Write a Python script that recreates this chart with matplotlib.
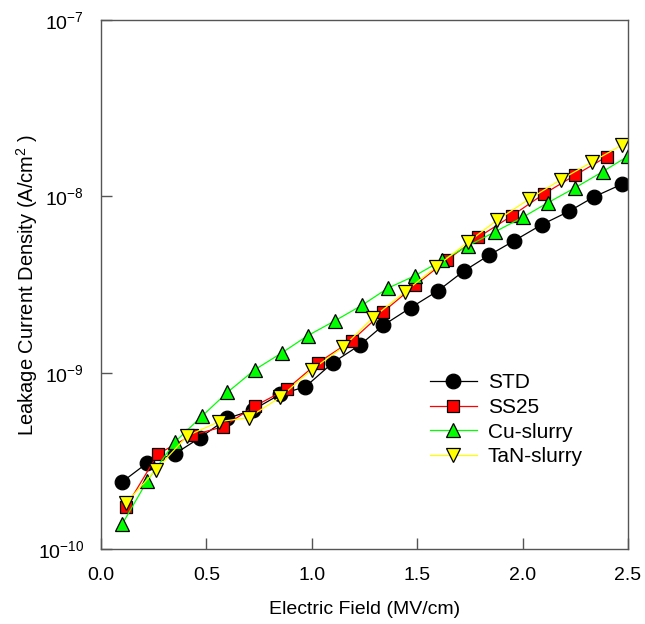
import math
import matplotlib
matplotlib.use("Agg")
import matplotlib.pyplot as plt
from matplotlib.ticker import FixedLocator, FuncFormatter, NullLocator

plt.rcParams['font.family'] = ['Liberation Sans', 'DejaVu Sans']
plt.rcParams['mathtext.fontset'] = 'custom'
plt.rcParams['mathtext.rm'] = 'Liberation Sans'
plt.rcParams['mathtext.it'] = 'Liberation Sans'
plt.rcParams['mathtext.bf'] = 'Liberation Sans'

std_x = [0.10, 0.22, 0.35, 0.47, 0.60, 0.72, 0.85, 0.97, 1.10, 1.23, 1.34, 1.47,
         1.60, 1.72, 1.84, 1.96, 2.09, 2.22, 2.34, 2.47]
std_y = [2.40e-10, 3.08e-10, 3.46e-10, 4.28e-10, 5.51e-10, 6.14e-10, 7.54e-10, 8.32e-10,
         1.14e-9, 1.44e-9, 1.86e-9, 2.34e-9, 2.92e-9, 3.76e-9, 4.63e-9, 5.60e-9,
         6.90e-9, 8.22e-9, 9.95e-9, 1.17e-8]

ss25_x = [0.12, 0.27, 0.43, 0.58, 0.73, 0.88, 1.03, 1.19, 1.34, 1.49, 1.64, 1.79,
          1.95, 2.10, 2.25, 2.40]
ss25_y = [1.74e-10, 3.46e-10, 4.41e-10, 4.94e-10, 6.47e-10, 8.05e-10, 1.14e-9, 1.52e-9,
          2.22e-9, 3.13e-9, 4.35e-9, 5.86e-9, 7.77e-9, 1.03e-8, 1.32e-8, 1.68e-8]

cu_x = [0.10, 0.22, 0.35, 0.48, 0.60, 0.73, 0.86, 0.98, 1.11, 1.24, 1.36, 1.49,
        1.62, 1.74, 1.87, 2.00, 2.12, 2.25, 2.38, 2.50]
cu_y = [1.38e-10, 2.44e-10, 4.04e-10, 5.68e-10, 7.74e-10, 1.04e-9, 1.30e-9, 1.62e-9,
        1.97e-9, 2.42e-9, 3.01e-9, 3.55e-9, 4.35e-9, 5.23e-9, 6.30e-9, 7.60e-9,
        9.20e-9, 1.12e-8, 1.38e-8, 1.69e-8]

tan_x = [0.12, 0.26, 0.41, 0.56, 0.70, 0.85, 1.00, 1.15, 1.29, 1.44, 1.59, 1.74,
         1.88, 2.03, 2.18, 2.33, 2.47]
tan_y = [1.83e-10, 2.81e-10, 4.39e-10, 5.27e-10, 5.56e-10, 7.25e-10, 1.04e-9, 1.40e-9,
         2.05e-9, 2.86e-9, 3.99e-9, 5.49e-9, 7.34e-9, 9.62e-9, 1.24e-8, 1.57e-8, 1.95e-8]

labels = ['STD', 'SS25', 'Cu-slurry', 'TaN-slurry']
x_ticks = [0.0, 0.5, 1.0, 1.5, 2.0, 2.5]
y_ticks = [1e-10, 1e-9, 1e-8, 1e-7]

fig = plt.figure(figsize=(6.45, 6.24), dpi=100)
ax = fig.add_axes([101/645, 75/624, 527/645, 529/624])

series = [
    (std_x, std_y, 'black', 'o', 'black', 10.5),
    (ss25_x, ss25_y, 'red', 's', 'red', 9),
    (cu_x, cu_y, '#00ff00', '^', '#00ff00', 10.5),
    (tan_x, tan_y, '#ffff00', 'v', '#ffff00', 10.5),
]
for (xs, ys, lc, m, fc, ms), lab in zip(series, labels):
    ax.plot(xs, ys, color=lc, lw=0.9, marker=m, markersize=ms,
            markerfacecolor=fc, markeredgecolor='black', markeredgewidth=0.9,
            label=lab)

ax.set_yscale('log')
ax.set_xlim(0, 2.5)
ax.set_ylim(1e-10, 1e-7)
ax.xaxis.set_major_locator(FixedLocator(x_ticks))
ax.xaxis.set_major_formatter(FuncFormatter(lambda v, p: f"{v:.1f}"))
ax.yaxis.set_major_locator(FixedLocator(y_ticks))
ax.yaxis.set_minor_locator(NullLocator())
ax.yaxis.set_major_formatter(FuncFormatter(
    lambda v, p: r"$\mathregular{10^{%d}}$" % round(math.log10(v))))

for s in ax.spines.values():
    s.set_color('#555555')
    s.set_linewidth(1.0)
ax.tick_params(axis='both', direction='in', length=8, width=1, color='#555555',
               labelsize=14)
ax.tick_params(axis='x', pad=13)
ax.tick_params(axis='y', pad=12)

ax.set_xlabel('Electric Field (MV/cm)', fontsize=14, labelpad=12)
ax.set_ylabel(r'Leakage Current Density (A/cm$^\mathregular{2}$ )', fontsize=14.5)
ax.yaxis.set_label_coords(-0.115, 0.5)

ax.legend(loc='upper left', bbox_to_anchor=(430/645, 1 - 373/624),
          bbox_transform=fig.transFigure, frameon=False, fontsize=15,
          numpoints=1, handlelength=2.25, handletextpad=0.53, labelspacing=0.28,
          borderaxespad=0, borderpad=0)

fig.savefig('out.png', dpi=100)
